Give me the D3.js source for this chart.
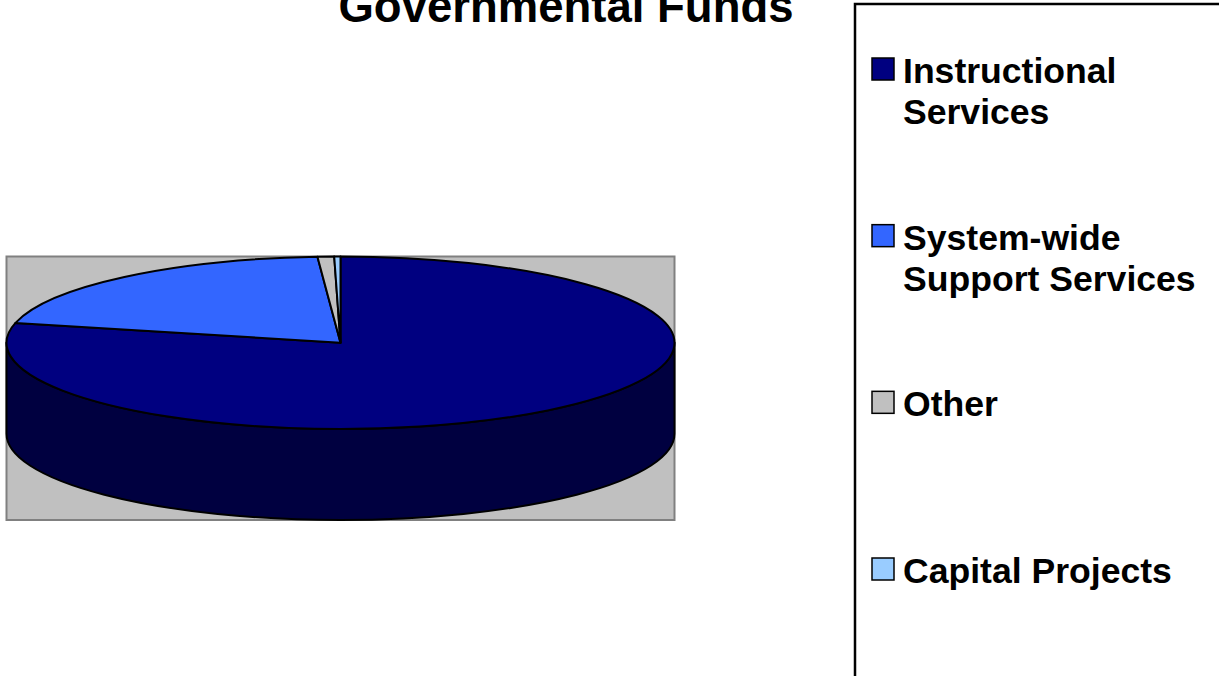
<!DOCTYPE html>
<html>
<head>
<meta charset="utf-8">
<script src="https://cdn.jsdelivr.net/npm/d3@7"></script>
<style>
  html, body { margin: 0; padding: 0; background: #fff; }
  svg { display: block; }
</style>
</head>
<body>
<script>
// 3D pie - expenditures, governmental funds
const categories = ["Instructional Services", "System-wide Support Services", "Other", "Capital Projects"];
const labelLines = [["Instructional", "Services"], ["System-wide", "Support Services"], ["Other"], ["Capital Projects"]];
const values = [78.7, 20.2, 0.8, 0.3];
const topColors = ["#000080", "#3366FF", "#C0C0C0", "#99CCFF"];
const sideColors = ["#000040", "#1A3380", "#606060", "#4D6680"];
const title = "Governmental Funds";

let width = 1219
let height = 676
let cx = 340.5, cy = 342.75
let rx = 334, ry = 86.25
let depth = 91

let fill = d3.scaleOrdinal().domain(categories).range(topColors)
let sideFill = d3.scaleOrdinal().domain(categories).range(sideColors)

let pie = d3.pie().sort(null).value(d => d.value)
let slices = pie(categories.map((c, i) => ({name: c, value: values[i]})))

// ellipse point for an angle (0 = 12 o'clock, clockwise)
function pt(a, dy = 0) {
  return [cx + rx * Math.sin(a), cy - ry * Math.cos(a) + dy]
}

function topPath(d) {
  let p0 = pt(d.startAngle), p1 = pt(d.endAngle)
  let large = d.endAngle - d.startAngle > Math.PI ? 1 : 0
  return `M${cx},${cy}L${p0}A${rx},${ry} 0 ${large} 1 ${p1}Z`
}

function sidePath(d) {
  let s = Math.max(d.startAngle, Math.PI / 2)
  let e = Math.min(d.endAngle, Math.PI * 1.5)
  if (e <= s) return null
  let large = e - s > Math.PI ? 1 : 0
  return `M${pt(s)}A${rx},${ry} 0 ${large} 1 ${pt(e)}L${pt(e, depth)}A${rx},${ry} 0 ${large} 0 ${pt(s, depth)}Z`
}

let svg = d3.select("body").append("svg")
  .attr("width", width)
  .attr("height", height)

// plot area
svg.append("rect")
  .attr("x", cx - rx).attr("y", cy - ry)
  .attr("width", rx * 2).attr("height", ry * 2 + depth)
  .attr("fill", "#C0C0C0")
  .attr("stroke", "#808080")
  .attr("stroke-width", 2)

svg.append("g").selectAll("path")
  .data(slices.filter(d => sidePath(d)))
  .join("path")
  .attr("d", sidePath)
  .attr("fill", d => sideFill(d.data.name))
  .attr("stroke", "#000")
  .attr("stroke-width", 2)
  .attr("stroke-linejoin", "round")

svg.append("g").selectAll("path")
  .data(slices)
  .join("path")
  .attr("d", topPath)
  .attr("fill", d => fill(d.data.name))
  .attr("stroke", "#000")
  .attr("stroke-width", 2)
  .attr("stroke-linejoin", "round")

svg.append("text")
  .attr("x", 566).attr("y", 22)
  .attr("text-anchor", "middle")
  .attr("font-family", "'Liberation Sans', Arial, sans-serif")
  .attr("font-weight", "bold")
  .attr("font-size", 45.5)
  .text(title)

// legend
svg.append("rect")
  .attr("x", 855).attr("y", 4)
  .attr("width", 420).attr("height", 720)
  .attr("fill", "#fff")
  .attr("stroke", "#000")
  .attr("stroke-width", 2.5)

let ly = d3.scaleLinear().domain([0, categories.length - 1]).range([83, 583])

let items = svg.append("g").selectAll("g")
  .data(categories)
  .join("g")
  .attr("transform", (d, i) => `translate(0,${ly(i)})`)

items.append("rect")
  .attr("x", 872).attr("y", -25)
  .attr("width", 22).attr("height", 22)
  .attr("fill", d => fill(d))
  .attr("stroke", "#000")
  .attr("stroke-width", 1.5)

items.append("text")
  .attr("font-family", "'Liberation Sans', Arial, sans-serif")
  .attr("font-weight", "bold")
  .attr("font-size", 35.6)
  .selectAll("tspan")
  .data((d, i) => labelLines[i])
  .join("tspan")
  .attr("x", 903)
  .attr("y", (d, j) => j * 41)
  .text(d => d)
</script>
</body>
</html>
